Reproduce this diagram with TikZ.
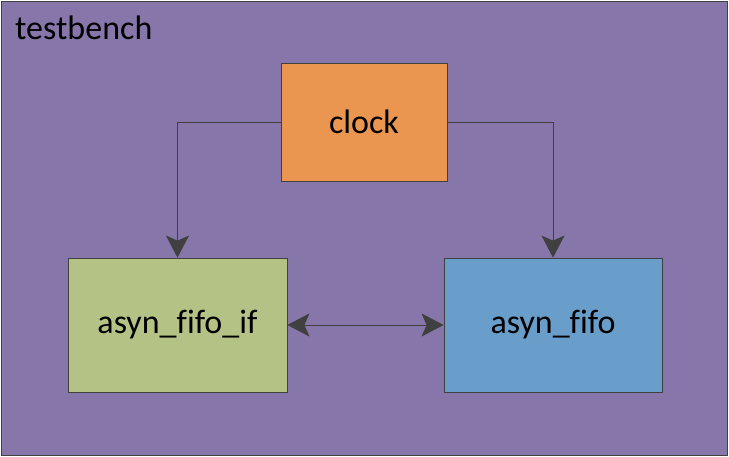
\documentclass[tikz,border=0pt]{standalone}
\usepackage{fontspec}
\setmainfont[Ligatures=NoCommon]{Carlito}
\usetikzlibrary{arrows.meta,positioning}
\definecolor{benchpurple}{RGB}{134,118,170}
\definecolor{clockorange}{RGB}{234,150,80}
\definecolor{ifgreen}{RGB}{180,195,133}
\definecolor{fifoblue}{RGB}{105,158,202}
\definecolor{edgegrey}{RGB}{64,64,64}
\begin{document}
\begin{tikzpicture}[x=1pt, y=-1pt,
    block/.style={draw=edgegrey, line width=0.8pt, inner sep=0pt, font=\fontsize{34}{40}\selectfont},
    link/.style={draw=edgegrey, line width=0.8pt, -{Stealth[length=22pt, width=23pt, inset=5pt]}}]
  \useasboundingbox (0,0) rectangle (729,457);
  % testbench frame
  \node[draw=edgegrey, line width=0.8pt, fill=benchpurple, minimum width=726pt, minimum height=454pt] (bench) at (364,228) {};
  \node[anchor=base west, inner sep=0pt, font=\fontsize{34}{40}\selectfont] (benchlabel) at (15,40) {testbench};
  % blocks
  \node[block, fill=clockorange, minimum width=166pt, minimum height=118pt] (clock) at (364,122) {clock};
  \node[block, fill=ifgreen, minimum width=219pt, minimum height=134pt] (fifoif) at (177.5,325) {asyn\_fifo\_if};
  \node[block, fill=fifoblue, minimum width=218pt, minimum height=134pt] (fifo) at (553,325) {asyn\_fifo};
  % connections
  \draw[link] (clock.west) -| (fifoif.north);
  \draw[link] (clock.east) -| (fifo.north);
  \draw[link, {Stealth[length=22pt, width=23pt, inset=5pt]}-{Stealth[length=22pt, width=23pt, inset=5pt]}] (fifoif.east) -- (fifo.west);
\end{tikzpicture}
\end{document}
